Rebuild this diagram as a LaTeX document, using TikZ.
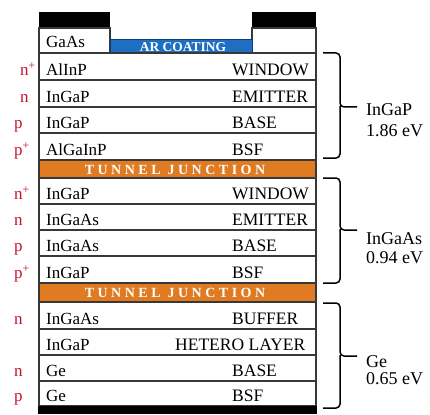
\documentclass[tikz,border=0pt]{standalone}
\usepackage{fontspec}
\setmainfont{Liberation Serif}
\definecolor{dopered}{HTML}{C8102E}
\definecolor{arblue}{HTML}{1E6FC2}
\definecolor{arblueedge}{HTML}{0D3F7A}
\definecolor{tjorange}{HTML}{E07B22}
\definecolor{edge}{HTML}{383838}
\begin{document}
\begin{tikzpicture}[x=1pt,y=-1pt,
  layer/.style={draw=edge,line width=1.3pt,fill=white},
  mat/.style={anchor=base west,inner sep=0,font=\fontsize{17}{19}\selectfont},
  role/.style={anchor=base west,inner sep=0,font=\fontsize{17.5}{19}\selectfont},
  dope/.style={anchor=base west,inner sep=0,text=dopered,font=\fontsize{17}{19}\selectfont},
  band/.style={anchor=base west,inner sep=0,font=\fontsize{18}{20}\selectfont},
  tj/.style={fill=tjorange,draw=edge,line width=1.3pt},
  tjtext/.style={anchor=base,inner sep=0,text=white,font=\fontsize{14}{16}\selectfont\bfseries\addfontfeature{LetterSpace=25}},
  bracket/.style={draw=black,line width=1.5pt,rounded corners=4pt}]
\useasboundingbox (0,0) rectangle (430,414);
% contacts and top
\fill[black] (39,12) rectangle (110,28);
\fill[black] (252,12) rectangle (316,28);
\draw[layer] (39,28) rectangle (110,53);
\draw[layer] (252,28) rectangle (316,53);
\draw[fill=arblue,draw=arblueedge,line width=1pt] (110,39.5) rectangle (252,53);
\node[anchor=base,inner sep=0,text=white,font=\fontsize{13.5}{15}\selectfont\bfseries] (ar) at (183,51.5) {AR COATING};
\node[mat] (gaas) at (46,48) {GaAs};
% layers
\foreach \t/\b in {53/80,80/107,107/133,133/160,178/204,204/230,230/256,256/283,302/329,329/355,355/381,381/406}
  {\draw[layer] (39,\t) rectangle (316,\b);}
\draw[tj] (39,160) rectangle (316,178);
\draw[tj] (39,283) rectangle (316,302);
\fill[black] (38.35,406) rectangle (316.65,414);
\node[tjtext] (tj1) at (175,174) {TUNNEL JUNCTION};
\node[tjtext] (tj2) at (175,297.5) {TUNNEL JUNCTION};
% row texts
\foreach \x/\y/\d/\m/\r/\nm in {
  20/75.5/n\textsuperscript{+}/AlInP/WINDOW/a,
  20/102.5/n/InGaP/EMITTER/b,
  14/128.5/p/InGaP/BASE/c,
  14/155.5/p\textsuperscript{+}/AlGaInP/BSF/d,
  14/199.5/n\textsuperscript{+}/InGaP/WINDOW/e,
  14/225.5/n/InGaAs/EMITTER/f,
  14/251.5/p/InGaAs/BASE/g,
  14/278.5/p\textsuperscript{+}/InGaP/BSF/h,
  14/324.5/n/InGaAs/BUFFER/i,
  14/376.5/n/Ge/BASE/k,
  14/401.5/p/Ge/BSF/l}
{
  \node[dope] (d\nm) at (\x,\y) {\d};
  \node[mat] (m\nm) at (46,\y) {\m};
  \node[role] (r\nm) at (232,\y) {\r};
}
\node[mat] (mj) at (46,350.5) {InGaP};
\node[role] (rj) at (175,350.5) {HETERO LAYER};
% brackets
\draw[bracket] (323,53) -- (340,53) -- (340,107) -- (357,107);
\draw[bracket] (340,106) -- (340,158) -- (323,158);
\draw[bracket] (323,178) -- (340,178) -- (340,230) -- (357,230);
\draw[bracket] (340,229) -- (340,283) -- (323,283);
\draw[bracket] (323,303) -- (340,303) -- (340,356) -- (357,356);
\draw[bracket] (340,355) -- (340,408) -- (323,408);
\node[band] (b1) at (366,116) {InGaP};
\node[band] (b1e) at (366,137) {1.86 eV};
\node[band] (b2) at (366,244) {InGaAs};
\node[band] (b2e) at (366,263) {0.94 eV};
\node[band] (b3) at (366,367) {Ge};
\node[band] (b3e) at (366,384) {0.65 eV};
\end{tikzpicture}
\end{document}
